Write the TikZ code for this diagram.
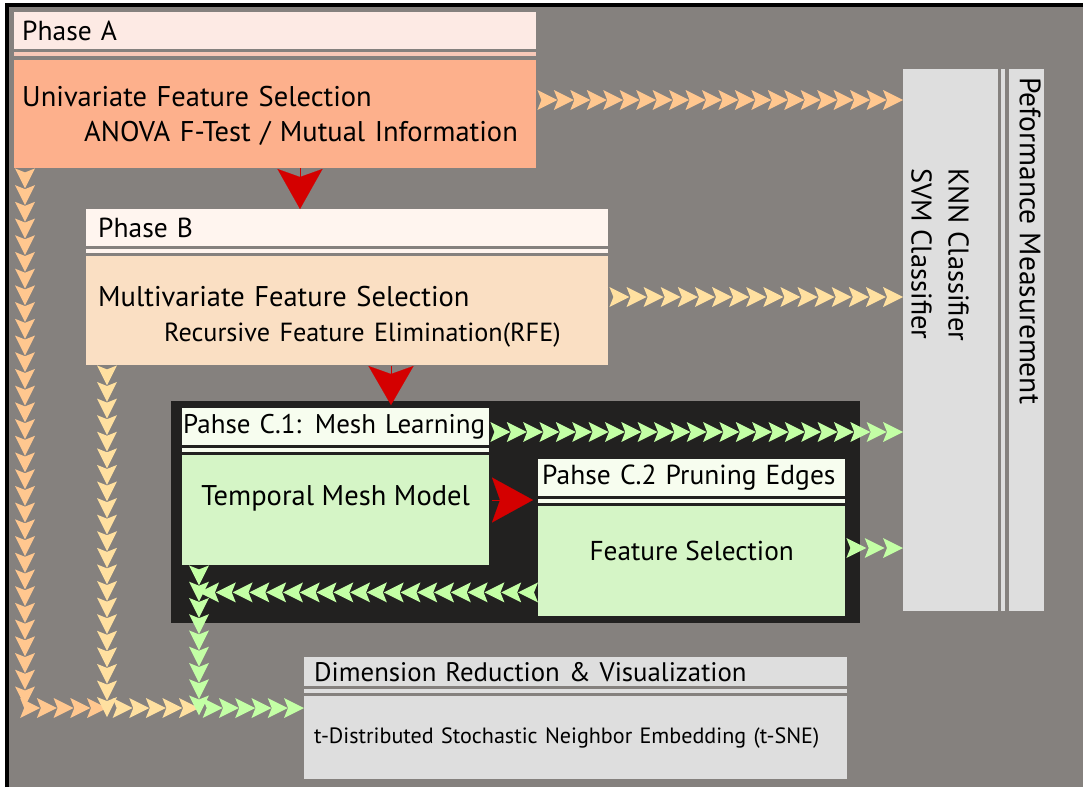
\documentclass[tikz,border=0pt]{standalone}
\usepackage{fontspec}
\setmainfont{PT Sans}
\usetikzlibrary{arrows.meta, calc, decorations.markings}
\definecolor{bggray}{HTML}{85817E}
\definecolor{headA}{HTML}{FDEAE4}
\definecolor{stripA}{HTML}{F8C9B8}
\definecolor{bodyA}{HTML}{FDB08C}
\definecolor{headB}{HTML}{FFF5EF}
\definecolor{bodyB}{HTML}{FADFC3}
\definecolor{cdark}{HTML}{222120}
\definecolor{headC}{HTML}{F7FDEF}
\definecolor{bodyC}{HTML}{D5F5C6}
\definecolor{lgray}{HTML}{DEDEDE}
\definecolor{redc}{HTML}{D40000}
\definecolor{chA}{HTML}{FFC78F}
\definecolor{chB}{HTML}{FFE0A0}
\definecolor{chC}{HTML}{C3FFA5}

%% the thin stripe under a header
\newcommand{\hstripe}[2]{\fill[#2] ($(#1.south west)+(0,3)$) rectangle ($(#1.south east)+(0,7)$);}

\tikzset{
  box/.style={rectangle, inner sep=0pt, anchor=north west, align=left},
  hdr/.style={box, minimum height=37pt, font=\fontsize{27.5}{33}\selectfont},
  chevs/.style={decoration={markings,
      mark=between positions 10pt and -10pt
        step {(\pgfdecoratedpathlength-20pt)/round((\pgfdecoratedpathlength-20pt)/16.6pt)}
        with {\fill[#1] (-10pt,-10pt) -- (10pt,0pt) -- (-10pt,10pt) -- (-6pt,0pt) -- cycle;}},
    postaction={decorate}},
  redtip/.style={color=redc, line width=0.1pt,
    -{Stealth[length=#1pt, width=45pt, inset=8pt]}},
}

\begin{document}
\begin{tikzpicture}[x=1pt, y=-1pt,
                    every node/.style={text=black, font=\fontsize{28.5}{35}\selectfont}]

  %% frame
  \fill[white] (0,0) rectangle (1083,787);
  \useasboundingbox (0,0) rectangle (1083,787);
  \fill[bggray] (5,3) rectangle (1083,787);
  \draw[black, line width=3.5pt] (6.75,787) -- (6.75,4.75) -- (1083,4.75);

  %% Phase A
  \node[hdr, fill=headA, text width=506, inner xsep=8pt] (hdrA) at (14,12) {Phase A};
  \hstripe{hdrA}{stripA}
  \node[box, fill=bodyA, minimum height=108pt, text width=506, inner xsep=8pt,
        text height=20pt, text depth=36pt] (uniA) at (14,60)
    {Univariate Feature Selection\\\hspace*{62pt}ANOVA F-Test / Mutual Information};

  %% Phase B
  \node[hdr, fill=headB, text width=498, inner xsep=12pt] (hdrB) at (86,209) {Phase B};
  \hstripe{hdrB}{headB}
  \node[box, fill=bodyB, minimum height=109pt, text width=498, inner xsep=12pt,
        text height=20pt, text depth=29pt] (multB) at (86,256)
    {Multivariate Feature Selection\\\hspace*{66pt}{\fontsize{26.2}{35}\selectfont Recursive Feature Elimination(RFE)}};

  %% Phase C
  \node[box, fill=cdark, minimum width=689pt, minimum height=222pt] (cbox) at (171,401) {};
  \node[hdr, fill=headC, text width=305, inner xsep=1pt, font=\fontsize{27}{33}\selectfont]
    (hdrC1) at (182,408) {\mbox{Pahse C.1: Mesh Learning}};
  \hstripe{hdrC1}{headC}
  \node[box, fill=bodyC, minimum width=307pt, minimum height=110pt, align=center,
        text height=19pt, text depth=29pt] (tmm) at (182,455) {Temporal Mesh Model};
  \node[hdr, fill=headC, text width=299, inner xsep=4pt] (hdrC2) at (538,459) {\mbox{Pahse C.2 Pruning Edges}};
  \hstripe{hdrC2}{headC}
  \node[box, fill=bodyC, minimum width=307pt, minimum height=110pt, align=center,
        font=\fontsize{27.3}{33}\selectfont,
        text height=19pt, text depth=21pt] (fsel) at (538,506) {Feature Selection};

  %% classifiers and measurement
  \node[box, fill=lgray, minimum width=95pt, minimum height=542pt] (clf) at (903,69) {};
  \fill[lgray] ($(clf.north east)+(3,0)$) rectangle ($(clf.south east)+(7,0)$);
  \node[box, fill=lgray, minimum width=35pt, minimum height=542pt] (perf) at (1009,69) {};
  \node[rotate=-90, anchor=north west, align=left, inner sep=0pt,
        font=\fontsize{28.5}{37}\selectfont] (clfT) at (969,168)
    {KNN Classifier\\SVM Classifier};
  \node[rotate=-90, anchor=north west, inner sep=0pt,
        font=\fontsize{29.5}{35}\selectfont] (perfT) at (1041,77) {Peformance Measurement};

  %% Dimension reduction
  \node[hdr, fill=lgray, minimum height=29pt, text width=523, inner xsep=10pt,
        font=\fontsize{26.8}{32}\selectfont] (hdrD) at (304,657)
    {Dimension Reduction \& Visualization};
  \hstripe{hdrD}{lgray}
  \node[box, fill=lgray, minimum height=83pt, text width=523, inner xsep=10pt,
        font=\fontsize{22.1}{26}\selectfont] (dimB) at (304,696)
    {t-Distributed Stochastic Neighbor Embedding (t-SNE)};

  %% red arrows
  \draw[redtip=40] ($(uniA.south west)+(286,0)$) coordinate (r1) -- (r1 |- hdrB.north);
  \draw[redtip=39] ($(multB.south west)+(305,1)$) coordinate (r2) -- ($(r2 |- cbox.north)+(0,4)$);
  \draw[redtip=41] ($(tmm.north east)+(3,45)$) coordinate (r3) -- ($(r3 -| hdrC2.west)+(-5,0)$);

  %% chevron chains to the classifiers
  \path[chevs=chA] ($(uniA.north east)+(1,40)$) coordinate (a1) -- (a1 -| clf.west);
  \path[chevs=chB] ($(multB.north east)+(1,41)$) coordinate (b1) -- (b1 -| clf.west);
  \path[chevs=chC] ($(hdrC1.north east)+(1,24)$) coordinate (c1) -- (c1 -| clf.west);
  \path[chevs=chC] ($(fsel.north east)+(1,42)$) coordinate (c2) -- (c2 -| clf.west);

  %% chevron chains down to the dimension reduction
  \coordinate (jB) at (107,708);
  \coordinate (jC) at (199,708);
  \path[chevs=chA] ($(uniA.south west)+(11,0)$) |- (jB);
  \path[chevs=chB] (jB |- multB.south) |- (jC);
  \path[chevs=chC] ($(fsel.south west)+(0,-24)$) coordinate (c3) -- (c3 -| jC);
  \path[chevs=chC] (jC |- tmm.south) |- (jC -| dimB.west);

\end{tikzpicture}
\end{document}
